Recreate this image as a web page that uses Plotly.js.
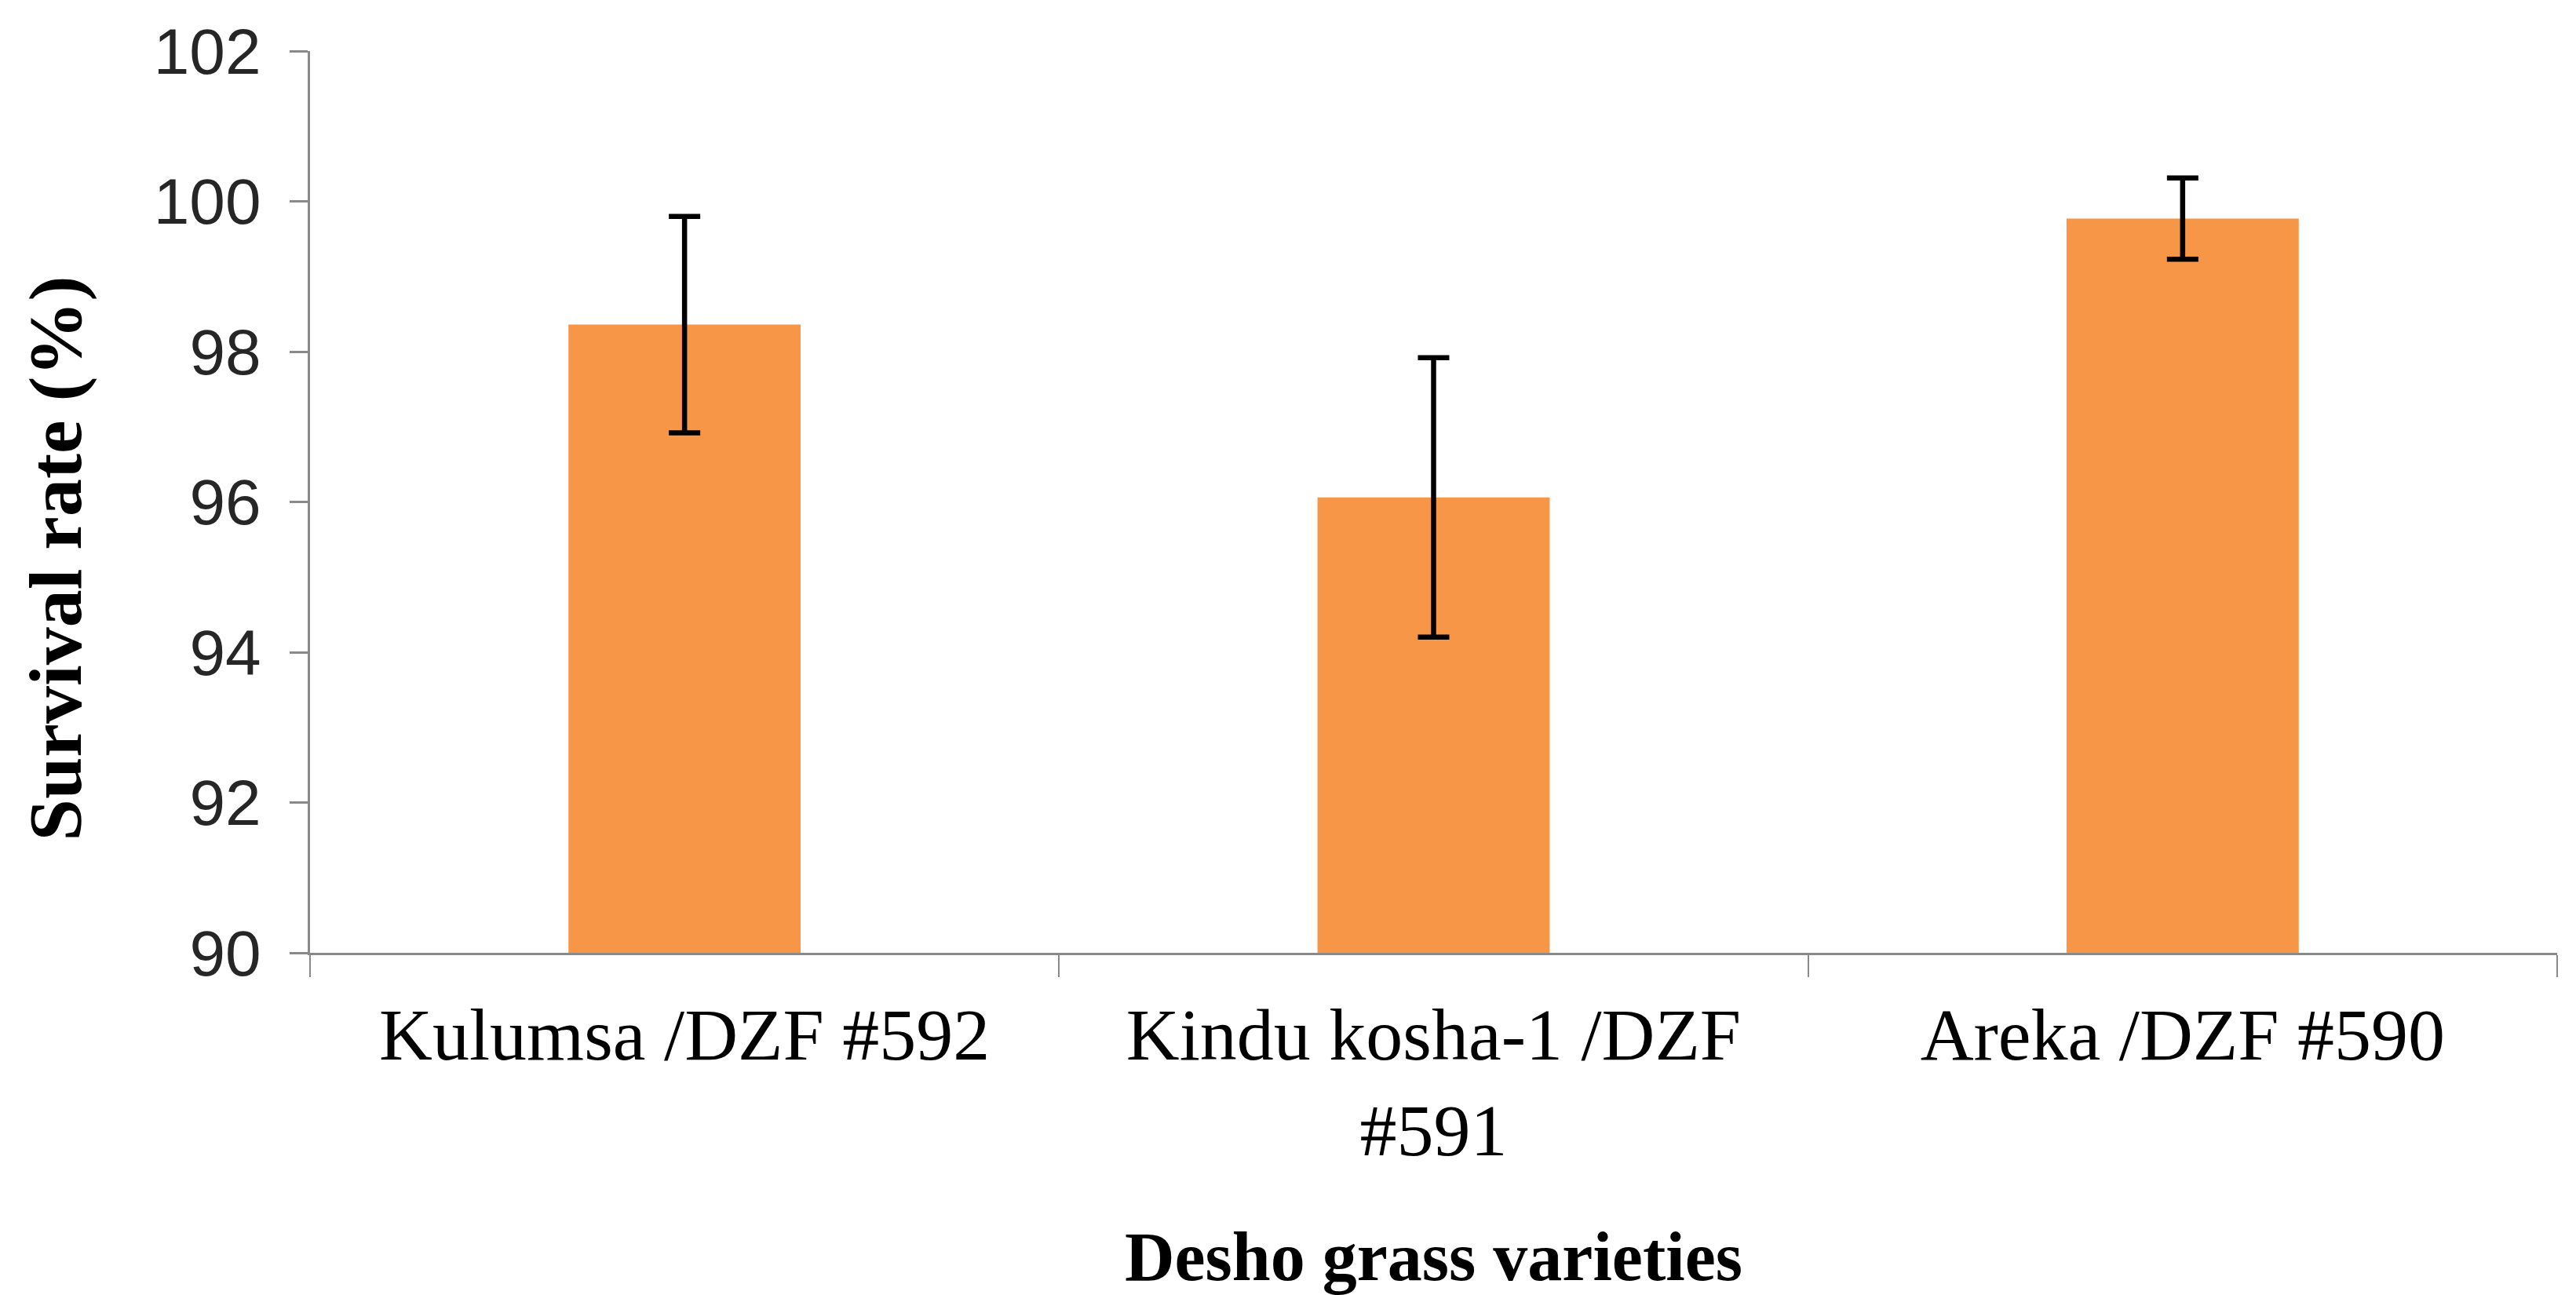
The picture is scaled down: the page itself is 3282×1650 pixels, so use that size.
<!DOCTYPE html>
<html>
<head>
<meta charset="utf-8">
<script src="https://cdn.plot.ly/plotly-3.0.1.min.js"></script>
<style>html,body{margin:0;padding:0;background:#fff;}#chart{width:3282px;height:1650px;}</style>
</head>
<body>
<div id="chart"></div>
<script>
const categories = ["Kulumsa /DZF #592", "Kindu kosha-1 /DZF<br>#591", "Areka /DZF #590"];
const survivalRate = [98.36, 96.06, 99.77];
const errorValues = [1.44, 1.86, 0.54];
const yTicks = [90, 92, 94, 96, 98, 100, 102];

const trace = {
  type: 'bar',
  x: categories,
  y: survivalRate,
  marker: {color: '#F79646'},
  error_y: {type: 'data', array: errorValues, visible: true, color: '#000000', thickness: 6.5, width: 20},
  hoverinfo: 'x+y'
};

const layout = {
  width: 3282,
  height: 1650,
  margin: {l: 395, r: 24, t: 65, b: 436},
  paper_bgcolor: '#ffffff',
  plot_bgcolor: '#ffffff',
  showlegend: false,
  bargap: 0.69,
  xaxis: {
    type: 'category',
    showline: true, linecolor: '#8a8a8a', linewidth: 3,
    ticks: 'outside', tickson: 'boundaries', ticklen: 28, tickwidth: 2, tickcolor: '#8a8a8a',
    showgrid: false, zeroline: false,
    ticklabelstandoff: 20,
    tickfont: {family: 'Liberation Serif, Times New Roman, serif', size: 94, color: '#000000'},
    automargin: false,
    title: {text: '<b>Desho grass varieties</b>', font: {family: 'Liberation Serif, Times New Roman, serif', size: 88, color: '#000000'}, standoff: 114}
  },
  yaxis: {
    range: [90, 102],
    tickvals: yTicks,
    showline: true, linecolor: '#8a8a8a', linewidth: 3,
    ticks: 'outside', ticklen: 23, tickwidth: 3, tickcolor: '#8a8a8a',
    showgrid: false, zeroline: false,
    ticklabelstandoff: 20,
    tickfont: {family: 'Liberation Sans Narrow, Arial Narrow, sans-serif', size: 82, color: '#262626'},
    automargin: false,
    title: {text: '<b>Survival rate (%)</b>&#160;&#160;&#160;&#160;&#160;&#160;', font: {family: 'Liberation Serif, Times New Roman, serif', size: 96, color: '#000000'}, standoff: 61}
  }
};

Plotly.newPlot('chart', [trace], layout, {displayModeBar: false, staticPlot: true});
</script>
</body>
</html>
